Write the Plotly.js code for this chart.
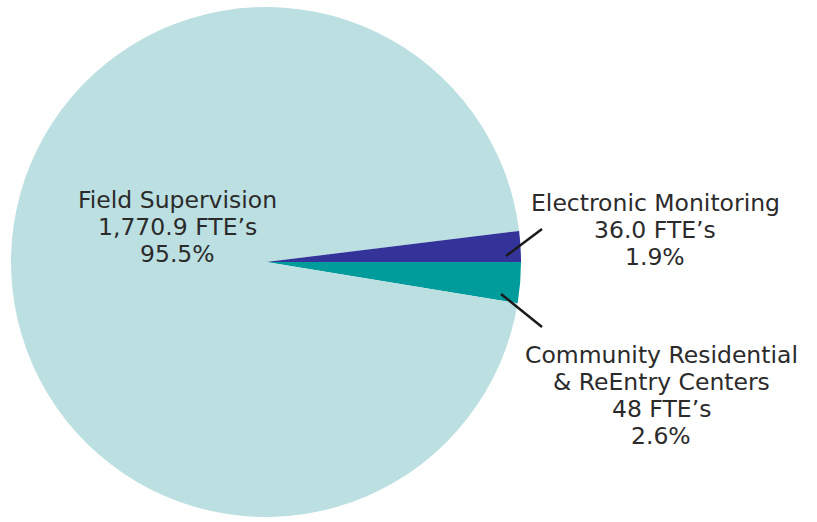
<!DOCTYPE html>
<html>
<head>
<meta charset="utf-8">
<script src="https://cdn.plot.ly/plotly-3.0.1.min.js"></script>
<style>html,body{margin:0;padding:0;background:#fff;}#chart{width:817px;height:522px;}</style>
</head>
<body>
<div id="chart"></div>
<script>
// Data (order: clockwise from 3 o'clock)
var labels = ["Community Residential|& ReEntry Centers", "Field Supervision", "Electronic Monitoring"];
var values = [48, 1770.9, 36.0];
var fteText = ["48", "1,770.9", "36.0"];
var pctText = ["2.6%", "95.5%", "1.9%"];
var colors = ["#009b9b", "#bcdfe2", "#33339a"];

var W = 817, H = 522;
function px(x){ return x / W; }
function py(y){ return 1 - y / H; }

var cx = 266, cy = 262, r = 255;

var trace = {
  type: "pie",
  labels: labels.map(function(l){ return l.replace("|", " "); }),
  values: values,
  sort: false,
  direction: "clockwise",
  rotation: 90,
  marker: {colors: colors, line: {width: 0}},
  textinfo: "none",
  hoverinfo: "label+value+percent",
  showlegend: false,
  domain: {x: [px(cx - r), px(cx + r)], y: [py(cy + r), py(cy - r)]}
};

// label block positions (pixels): center x, first line center y
var labelPos = [[661, 355], [177, 200], [655, 203]];
var lineGap = 27;
var annotations = [];
labels.forEach(function(l, i){
  var lines = l.split("|").concat([fteText[i] + " FTE\u2019s", pctText[i]]);
  lines.forEach(function(t, k){
    annotations.push({
      xref: "paper", yref: "paper",
      x: px(labelPos[i][0]), y: py(labelPos[i][1] + k * lineGap),
      xanchor: "center", yanchor: "middle",
      showarrow: false, align: "center",
      text: t,
      font: {family: "DejaVu Sans, sans-serif", size: 23.5, color: "#2b2b2b"}
    });
  });
});

var shapes = [
  {type: "line", xref: "paper", yref: "paper", x0: px(506), y0: py(256), x1: px(542), y1: py(229), line: {color: "#1a1a1a", width: 2.5}},
  {type: "line", xref: "paper", yref: "paper", x0: px(501), y0: py(294), x1: px(542), y1: py(327), line: {color: "#1a1a1a", width: 2.5}}
];

var layout = {
  width: W, height: H,
  margin: {l: 0, r: 0, t: 0, b: 0},
  paper_bgcolor: "#ffffff",
  annotations: annotations,
  shapes: shapes
};

Plotly.newPlot("chart", [trace], layout, {displayModeBar: false, staticPlot: true});
</script>
</body>
</html>
